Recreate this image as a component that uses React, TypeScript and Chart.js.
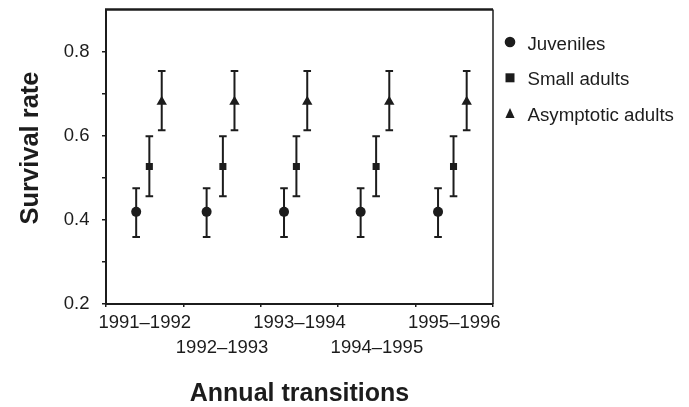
import React, { useEffect, useRef } from 'react';
import { Chart, registerables } from 'chart.js';

Chart.register(...registerables);

// ---------- data ----------
const categories = ['1991–1992', '1992–1993', '1993–1994', '1994–1995', '1995–1996'];
const seriesNames = ['Juveniles', 'Small adults', 'Asymptotic adults'];

// position of each estimate along the transition axis (category units, 0..5)
const juvenileX = [0.39, 1.3, 2.3, 3.29, 4.29];
const smallAdultX = [0.56, 1.51, 2.46, 3.49, 4.49];
const asymptoticX = [0.72, 1.66, 2.6, 3.66, 4.66];

const juvenileRate = [0.419, 0.419, 0.419, 0.419, 0.419];
const juvenileLow = [0.359, 0.359, 0.359, 0.359, 0.359];
const juvenileHigh = [0.475, 0.475, 0.475, 0.475, 0.475];

const smallAdultRate = [0.527, 0.527, 0.527, 0.527, 0.527];
const smallAdultLow = [0.456, 0.456, 0.456, 0.456, 0.456];
const smallAdultHigh = [0.599, 0.599, 0.599, 0.599, 0.599];

const asymptoticRate = [0.681, 0.681, 0.681, 0.681, 0.681];
const asymptoticLow = [0.613, 0.613, 0.613, 0.613, 0.613];
const asymptoticHigh = [0.754, 0.754, 0.754, 0.754, 0.754];

const yTickValues = [0.2, 0.3, 0.4, 0.5, 0.6, 0.7, 0.8, 0.9];
const yTickLabels = ['0.2', '', '0.4', '', '0.6', '', '0.8', ''];

const yTitle = 'Survival rate';
const xTitle = 'Annual transitions';

// ---------- style ----------
const INK = '#1c1c1c';
const FONT = "'Liberation Sans', Arial, Helvetica, sans-serif";

const errorBarPlugin = {
  id: 'errorBars',
  beforeDatasetsDraw(chart: any) {
    const { ctx } = chart;
    const xs = chart.scales.x;
    const ys = chart.scales.y;
    ctx.save();
    ctx.strokeStyle = INK;
    ctx.lineWidth = 2;
    chart.data.datasets.forEach((ds: any) => {
      ds.data.forEach((pt: any, i: number) => {
        const px = xs.getPixelForValue(pt.x);
        const yl = ys.getPixelForValue(ds.errLow[i]);
        const yh = ys.getPixelForValue(ds.errHigh[i]);
        const cap = 3.8;
        ctx.beginPath();
        ctx.moveTo(px, yl);
        ctx.lineTo(px, yh);
        ctx.moveTo(px - cap, yl);
        ctx.lineTo(px + cap, yl);
        ctx.moveTo(px - cap, yh);
        ctx.lineTo(px + cap, yh);
        ctx.stroke();
      });
    });
    ctx.restore();
  },
};

const framePlugin = {
  id: 'frame',
  afterDraw(chart: any) {
    const { ctx, chartArea: a } = chart;
    ctx.save();
    ctx.strokeStyle = INK;
    ctx.lineWidth = 2.5;
    ctx.beginPath();
    ctx.moveTo(a.left - 1, a.top);
    ctx.lineTo(a.right, a.top);
    ctx.stroke();
    ctx.lineWidth = 1.5;
    ctx.beginPath();
    ctx.moveTo(a.right, a.top);
    ctx.lineTo(a.right, a.bottom);
    ctx.stroke();
    ctx.restore();
  },
};

const yTitlePlugin = {
  id: 'yTitle',
  afterDraw(chart: any, _args: any, opts: any) {
    const { ctx } = chart;
    ctx.save();
    ctx.translate(opts.x, opts.y);
    ctx.rotate(-Math.PI / 2);
    ctx.font = `bold 25.5px ${FONT}`;
    ctx.fillStyle = INK;
    ctx.textAlign = 'center';
    ctx.textBaseline = 'alphabetic';
    ctx.fillText(opts.text, 0, 0);
    ctx.restore();
  },
};

const sideLegendPlugin = {
  id: 'sideLegend',
  afterDraw(chart: any, _args: any, opts: any) {
    const { ctx } = chart;
    ctx.save();
    chart.data.datasets.forEach((ds: any, i: number) => {
      const cx = opts.markerX;
      const cy = opts.top + i * opts.spacing;
      ctx.fillStyle = INK;
      ctx.beginPath();
      if (ds.pointStyle === 'circle') {
        ctx.arc(cx, cy, 5.3, 0, Math.PI * 2);
      } else if (ds.pointStyle === 'rect') {
        ctx.rect(cx - 4.5, cy - 4.5, 9, 9);
      } else {
        ctx.moveTo(cx, cy - 5.5);
        ctx.lineTo(cx + 4.6, cy + 4.5);
        ctx.lineTo(cx - 4.6, cy + 4.5);
        ctx.closePath();
      }
      ctx.fill();
      ctx.font = `18.7px ${FONT}`;
      ctx.textAlign = 'left';
      ctx.textBaseline = 'alphabetic';
      ctx.fillText(ds.label, opts.textX, cy + 7.5);
    });
    ctx.restore();
  },
};

const xTickValues: number[] = [];
categories.forEach((_c, i) => {
  xTickValues.push(i, i + 0.5);
});
xTickValues.push(categories.length);

function makeDataset(label: string, xs: number[], ys: number[], lo: number[], hi: number[], style: string, radius: number) {
  return {
    label,
    data: xs.map((x, i) => ({ x, y: ys[i] })),
    errLow: lo,
    errHigh: hi,
    pointStyle: style,
    pointRadius: radius,
    pointHoverRadius: radius,
    backgroundColor: INK,
    borderColor: INK,
    borderWidth: 0,
    showLine: false,
  };
}

export default function App() {
  const canvasRef = useRef<HTMLCanvasElement | null>(null);

  useEffect(() => {
    if (!canvasRef.current) return;
    const chart = new Chart(canvasRef.current, {
      type: 'scatter',
      data: {
        datasets: [
          makeDataset(seriesNames[0], juvenileX, juvenileRate, juvenileLow, juvenileHigh, 'circle', 5),
          makeDataset(seriesNames[1], smallAdultX, smallAdultRate, smallAdultLow, smallAdultHigh, 'rect', 5),
          makeDataset(seriesNames[2], asymptoticX, asymptoticRate, asymptoticLow, asymptoticHigh, 'triangle', 6),
        ] as any,
      },
      options: {
        animation: false,
        responsive: true,
        maintainAspectRatio: false,
        layout: { padding: { top: 9.5, right: 196, left: 0, bottom: 0 } },
        plugins: {
          legend: { display: false },
          tooltip: { enabled: false },
          yTitle: { text: yTitle, x: 38, y: 148 },
          sideLegend: { markerX: 510, textX: 527.5, top: 42, spacing: 35.8 },
        } as any,
        scales: {
          x: {
            type: 'linear',
            min: 0,
            max: categories.length,
            afterBuildTicks: (s: any) => {
              s.ticks = xTickValues.map((v) => ({ value: v }));
            },
            afterFit: (s: any) => {
              s.height = 103;
              s.paddingLeft = 0;
              s.paddingRight = 0;
            },
            ticks: {
              autoSkip: false,
              maxRotation: 0,
              minRotation: 0,
              padding: 3.5,
              color: INK,
              font: { family: FONT, size: 18.5, lineHeight: 1.35 },
              callback: (_v: any, idx: number) => {
                if (idx % 2 === 0) return '';
                const k = (idx - 1) / 2;
                return k % 2 === 0 ? categories[k] : ['', categories[k]];
              },
            },
            grid: {
              drawOnChartArea: false,
              drawTicks: true,
              tickLength: 3,
              lineWidth: 1.5,
              color: (c: any) => (c.index % 2 === 0 ? INK : 'rgba(0,0,0,0)'),
            },
            border: { display: true, width: 2, color: INK },
            title: {
              display: true,
              text: xTitle,
              color: INK,
              font: { family: FONT, size: 25, weight: 'bold', lineHeight: 1 },
              padding: { top: 0, bottom: 0 },
            },
          },
          y: {
            type: 'linear',
            min: 0.2,
            max: 0.9,
            afterBuildTicks: (s: any) => {
              s.ticks = yTickValues.map((v) => ({ value: v }));
            },
            afterFit: (s: any) => {
              s.width = 106;
              s.paddingTop = 0;
              s.paddingBottom = 0;
            },
            ticks: {
              padding: 12.5,
              color: INK,
              font: { family: FONT, size: 18.5 },
              callback: (_v: any, idx: number) => yTickLabels[idx],
            },
            grid: {
              drawOnChartArea: false,
              drawTicks: true,
              tickLength: 4,
              lineWidth: 1.5,
              color: (c: any) => (c.index === yTickValues.length - 1 ? 'rgba(0,0,0,0)' : INK),
            },
            border: { display: true, width: 2, color: INK },
          },
        } as any,
      },
      plugins: [errorBarPlugin, framePlugin, yTitlePlugin, sideLegendPlugin],
    });
    return () => chart.destroy();
  }, []);

  return (
    <div style={{ position: 'absolute', left: 0, top: 0, width: 689, height: 407, background: '#fff' }}>
      <canvas ref={canvasRef} />
    </div>
  );
}
